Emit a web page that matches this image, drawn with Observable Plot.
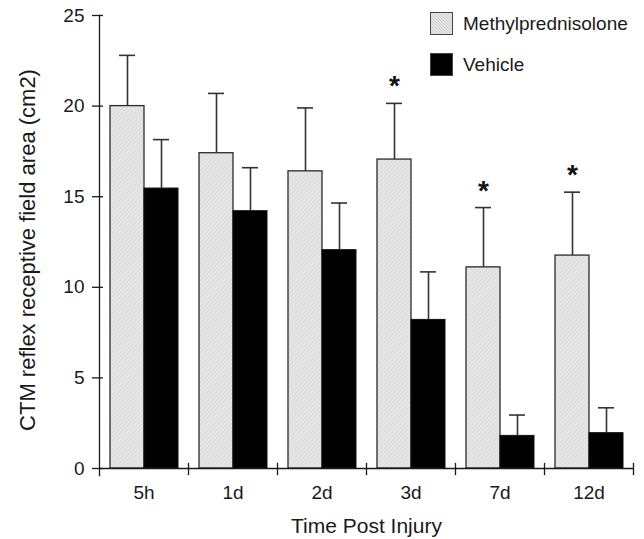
<!DOCTYPE html>
<html>
<head>
<meta charset="utf-8">
<script src="https://cdn.jsdelivr.net/npm/d3@7"></script>
<script src="https://cdn.jsdelivr.net/npm/@observablehq/plot@0.6"></script>
<style>
  body { margin: 0; background: #fff; }
  #wrap { position: relative; width: 644px; height: 539px; font-family: "Liberation Sans", Arial, sans-serif; color: #1a1a1a; }
  .legend { position: absolute; left: 430px; top: 0; font-size: 19px; }
  .legend .item { position: absolute; left: 0; display: flex; align-items: center; white-space: nowrap; }
  .legend .sw { width: 23px; height: 23px; box-sizing: border-box; border: 1px solid #444; margin-right: 10px; }
</style>
</head>
<body>
<div id="wrap"></div>
<script>
const times = ["5h", "1d", "2d", "3d", "7d", "12d"];
const groups = ["Methylprednisolone", "Vehicle"];
const methylMean = [20.0, 17.4, 16.4, 17.05, 11.1, 11.75];
const methylErr = [2.8, 3.3, 3.5, 3.1, 3.3, 3.5];
const vehicleMean = [15.45, 14.2, 12.05, 8.2, 1.8, 1.95];
const vehicleErr = [2.7, 2.4, 2.6, 2.65, 1.15, 1.4];
const significant = ["3d", "7d", "12d"];
const yTicks = [0, 5, 10, 15, 20, 25];
const yLabel = "CTM reflex receptive field area (cm2)";
const xLabel = "Time Post Injury";

const rows = [];
times.forEach((t, i) => {
  rows.push({time: t, group: groups[0], value: methylMean[i], err: methylErr[i]});
  rows.push({time: t, group: groups[1], value: vehicleMean[i], err: vehicleErr[i]});
});
const methylRows = rows.filter(d => d.group === groups[0]);
const vehicleRows = rows.filter(d => d.group === groups[1]);
const starRows = methylRows.filter(d => significant.includes(d.time));

const ink = "#1a1a1a";

const chart = Plot.plot({
  width: 644,
  height: 539,
  marginLeft: 98,
  marginRight: 11,
  marginTop: 15,
  marginBottom: 71,
  style: {fontFamily: "'Liberation Sans', Arial, sans-serif", fontSize: "19px", color: ink, background: "#fff"},
  fx: {domain: times, padding: 0},
  x: {domain: groups, paddingInner: 0, paddingOuter: 0.29, align: 0.52, axis: null},
  y: {domain: [0, 25]},
  marks: [
    Plot.barY(methylRows, {fx: "time", x: "group", y: "value", fill: "url(#hatch)", stroke: "#2a2a2a", strokeWidth: 1.3}),
    Plot.barY(vehicleRows, {fx: "time", x: "group", y: "value", fill: "#000", stroke: "#111", strokeWidth: 1}),
    Plot.ruleX(rows, {fx: "time", x: "group", y1: "value", y2: d => d.value + d.err, stroke: "#333", strokeWidth: 1.6}),
    Plot.tickY(rows, {fx: "time", x: "group", y: d => d.value + d.err, stroke: "#333", strokeWidth: 1.6, insetLeft: 9, insetRight: 9}),
    Plot.text(starRows, {fx: "time", x: "group", y: d => d.value + d.err, text: () => "*", dy: -17, fontSize: 28, fontWeight: "bold", fill: "#111"}),
    Plot.ruleY([0], {stroke: ink, strokeWidth: 1.3}),
    Plot.frame({anchor: "right", insetTop: 448, insetBottom: -6, stroke: ink, strokeWidth: 1.3}),
    Plot.frame({anchor: "left", facetAnchor: "left", insetBottom: -7, stroke: ink, strokeWidth: 1.3}),
    Plot.axisY({ticks: yTicks, tickSize: 11, tickPadding: 8, dx: 4, stroke: ink, strokeWidth: 1.3, fill: ink,
      fontSize: 19, label: null}),
    Plot.text([yLabel], {text: d => d, facetAnchor: "left", frameAnchor: "left", textAnchor: "middle", rotate: -90, lineAnchor: "top",
      dx: -80, dy: 8, fontSize: 22, fill: ink}),
    Plot.axisFx({anchor: "bottom", tickSize: 0, tickPadding: 17, fill: ink, fontSize: 19,
      label: xLabel, labelAnchor: "center", labelArrow: "none", labelOffset: 64})
  ]
});

// enlarge the x axis title slightly to match the reference
chart.querySelectorAll("text").forEach(t => { if (t.textContent === xLabel) t.setAttribute("font-size", "21"); });

// hatch pattern for the light bars
const ns = "http://www.w3.org/2000/svg";
const defs = document.createElementNS(ns, "defs");
const pat = document.createElementNS(ns, "pattern");
pat.setAttribute("id", "hatch");
pat.setAttribute("patternUnits", "userSpaceOnUse");
pat.setAttribute("width", "3");
pat.setAttribute("height", "3");
pat.setAttribute("patternTransform", "rotate(45)");
const bg = document.createElementNS(ns, "rect");
bg.setAttribute("width", "3"); bg.setAttribute("height", "3"); bg.setAttribute("fill", "#e6e6e6");
const ln = document.createElementNS(ns, "line");
ln.setAttribute("x1", "0"); ln.setAttribute("y1", "0"); ln.setAttribute("x2", "0"); ln.setAttribute("y2", "3");
ln.setAttribute("stroke", "#d0d0d0"); ln.setAttribute("stroke-width", "1");
pat.appendChild(bg); pat.appendChild(ln); defs.appendChild(pat);
chart.insertBefore(defs, chart.firstChild);

const wrap = document.getElementById("wrap");
wrap.appendChild(chart);

const legend = document.createElement("div");
legend.className = "legend";
const swatches = ["repeating-linear-gradient(45deg, #e6e6e6 0 1.4px, #d0d0d0 1.4px 2.1px)", "#000"];
const tops = [12, 53];
groups.forEach((g, i) => {
  const item = document.createElement("div");
  item.className = "item";
  item.style.top = tops[i] + "px";
  const sw = document.createElement("div");
  sw.className = "sw";
  sw.style.background = swatches[i];
  const label = document.createElement("span");
  label.textContent = g;
  item.appendChild(sw); item.appendChild(label);
  legend.appendChild(item);
});
wrap.appendChild(legend);
</script>
</body>
</html>
